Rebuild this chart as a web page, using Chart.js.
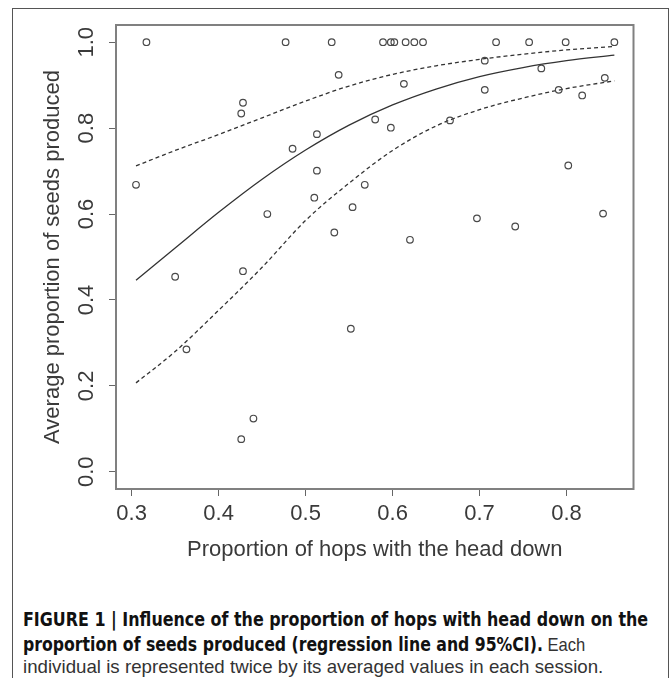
<!DOCTYPE html>
<html>
<head>
<meta charset="utf-8">
<script src="https://cdn.jsdelivr.net/npm/chart.js@4.4.0/dist/chart.umd.min.js"></script>
<style>
    html, body { margin: 0; padding: 0; background: #fff; overflow: hidden; }
    body { width: 671px; height: 678px; position: relative; }
    #frame {
        position: absolute; left: 12px; top: 8px; width: 657px; height: 700px;
        border: 1.5px solid #555; box-sizing: border-box;
    }
    #chart { position: absolute; left: 0; top: 0; }
    .cap {
        position: absolute; left: 23px; white-space: nowrap;
        display: inline-block; transform-origin: 0 50%;
        line-height: 24px;
    }
    .b { font-family: 'Liberation Sans Narrow', 'DejaVu Sans Condensed', 'Liberation Sans', sans-serif; font-weight: bold; font-size: 20px; color: #111; }
    .r { font-family: 'Liberation Sans', Arial, sans-serif; font-weight: normal; font-size: 19px; color: #333; }
</style>
</head>
<body>
<div id="frame"></div>
<canvas id="chart" width="671" height="580"></canvas>
<span class="cap" id="cap1" style="top:607px"><span class="b">FIGURE 1 | Influence of the proportion of hops with head down on the</span></span>
<span class="cap" id="cap2" style="top:632px"><span class="b">proportion of seeds produced (regression line and 95%CI).</span><span class="r"> Each</span></span>
<span class="cap" id="cap3" style="top:655px"><span class="r">individual is represented twice by its averaged values in each session.</span></span>

<script>
// Data
const hopsDown = [0.305, 0.317, 0.350, 0.363, 0.426, 0.426, 0.428, 0.428, 0.440, 0.456,
    0.477, 0.485, 0.510, 0.513, 0.513, 0.530, 0.533, 0.538, 0.552, 0.554,
    0.568, 0.580, 0.589, 0.598, 0.598, 0.602, 0.613, 0.615, 0.620, 0.625,
    0.635, 0.666, 0.697, 0.706, 0.706, 0.719, 0.741, 0.757, 0.771, 0.791,
    0.799, 0.802, 0.818, 0.842, 0.844, 0.855];
const seedsProduced = [0.668, 1.0, 0.454, 0.285, 0.076, 0.834, 0.859, 0.467, 0.124, 0.600,
    1.0, 0.752, 0.638, 0.786, 0.701, 1.0, 0.557, 0.924, 0.333, 0.616,
    0.668, 0.820, 1.0, 0.801, 1.0, 1.0, 0.903, 1.0, 0.540, 1.0,
    1.0, 0.818, 0.590, 0.889, 0.957, 1.0, 0.571, 1.0, 0.939, 0.889,
    1.0, 0.713, 0.876, 0.601, 0.917, 1.0];

// Regression line and 95% CI
const curveX = [0.305, 0.35, 0.40, 0.45, 0.50, 0.55, 0.60, 0.65, 0.70, 0.75, 0.80, 0.855];
const fitLine = [0.446, 0.521, 0.604, 0.681, 0.749, 0.807, 0.854, 0.891, 0.920, 0.941, 0.957, 0.970];
const upperCI = [0.712, 0.748, 0.785, 0.824, 0.863, 0.898, 0.925, 0.945, 0.960, 0.972, 0.982, 0.990];
const lowerCI = [0.207, 0.280, 0.376, 0.476, 0.585, 0.672, 0.748, 0.805, 0.843, 0.870, 0.892, 0.910];

// Axis ticks
const xTicks = [0.3, 0.4, 0.5, 0.6, 0.7, 0.8];
const yTicks = [0.0, 0.2, 0.4, 0.6, 0.8, 1.0];

const AXIS_FONT = { family: "'Liberation Sans', Arial, sans-serif", size: 22 };
const TEXT_COLOR = '#3a3a3a';

function toPoints(xs, ys) {
    return xs.map((x, i) => ({ x: x, y: ys[i] }));
}

function curve(values, dash) {
    return {
        type: 'line',
        data: toPoints(curveX, values),
        borderColor: '#333',
        borderWidth: 1.3,
        borderDash: dash,
        pointRadius: 0,
        cubicInterpolationMode: 'monotone',
        fill: false
    };
}

// draws the full box round the plot region
const plotBox = {
    id: 'plotBox',
    afterDraw(chart) {
        const { ctx, chartArea: a } = chart;
        ctx.save();
        ctx.strokeStyle = '#808080';
        ctx.lineWidth = 2;
        ctx.strokeRect(a.left, a.top, a.right - a.left, a.bottom - a.top);
        ctx.restore();
    }
};

const ctx = document.getElementById('chart').getContext('2d');
new Chart(ctx, {
    type: 'scatter',
    data: {
        datasets: [
            {
                data: toPoints(hopsDown, seedsProduced),
                pointStyle: 'circle',
                pointRadius: 3.3,
                pointBorderWidth: 1.2,
                borderColor: '#4a4a4a',
                backgroundColor: 'rgba(0,0,0,0)'
            },
            curve(fitLine, []),
            curve(upperCI, [4, 3]),
            curve(lowerCI, [4, 3])
        ]
    },
    options: {
        responsive: false,
        animation: false,
        devicePixelRatio: 1,
        layout: { padding: { top: 25, right: 37.5, left: 0, bottom: 0 } },
        plugins: { legend: { display: false }, tooltip: { enabled: false } },
        scales: {
            x: {
                type: 'linear',
                min: 0.282,
                max: 0.877,
                afterBuildTicks: s => { s.ticks = xTicks.map(v => ({ value: v })); },
                afterFit: s => { s.height = 91; },
                ticks: {
                    callback: v => v.toFixed(1),
                    font: AXIS_FONT,
                    color: TEXT_COLOR,
                    padding: 5,
                    maxRotation: 0
                },
                grid: { drawOnChartArea: false, tickLength: 7, color: '#666', lineWidth: 1 },
                border: { display: false },
                title: {
                    display: true,
                    text: 'Proportion of hops with the head down',
                    font: AXIS_FONT,
                    color: TEXT_COLOR,
                    padding: { top: 0, bottom: 17 }
                }
            },
            y: {
                type: 'linear',
                min: -0.04,
                max: 1.04,
                afterBuildTicks: s => { s.ticks = yTicks.map(v => ({ value: v })); },
                afterFit: s => { s.width = 116; },
                ticks: {
                    callback: v => v.toFixed(1),
                    font: AXIS_FONT,
                    color: TEXT_COLOR,
                    padding: 7,
                    minRotation: 90,
                    maxRotation: 90,
                    crossAlign: 'center'
                },
                grid: { drawOnChartArea: false, tickLength: 7, color: '#666', lineWidth: 1 },
                border: { display: false },
                title: {
                    display: true,
                    text: 'Average proportion of seeds produced',
                    font: AXIS_FONT,
                    color: TEXT_COLOR,
                    padding: { top: 40, bottom: 0 }
                }
            }
        }
    },
    plugins: [plotBox]
});

// stretch caption lines to the widths in the figure
function fitCaption(id, target) {
    const el = document.getElementById(id);
    el.style.transform = 'scaleX(' + (target / el.scrollWidth) + ')';
}
fitCaption('cap1', 625);
fitCaption('cap2', 562);
fitCaption('cap3', 580);
</script>
</body>
</html>
